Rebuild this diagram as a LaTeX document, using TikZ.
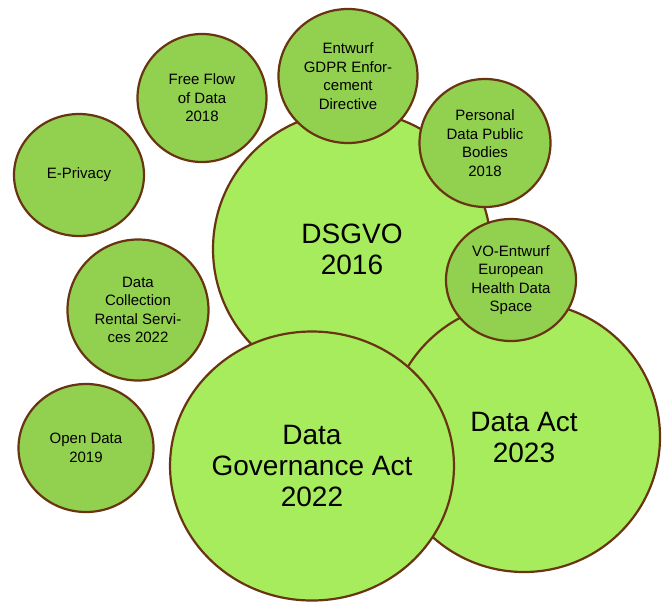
\documentclass[tikz,border=0pt]{standalone}
\usepackage{fontspec}
\setmainfont{Liberation Sans}
\usetikzlibrary{shapes.geometric}
\definecolor{bubbleedge}{RGB}{104,52,18}
\definecolor{bigfill}{RGB}{166,236,92}
\definecolor{smallfill}{RGB}{146,208,80}
\begin{document}
\begin{tikzpicture}[%
    x=1pt,y=-1pt,
    bubble/.style={%
      ellipse,draw=bubbleedge,line width=2.2pt,inner sep=0pt,outer sep=0pt,align=center},
    bigbubble/.style={bubble,fill=bigfill,font=\fontsize{28}{31}\selectfont},
    smallbubble/.style={bubble,fill=smallfill,font=\fontsize{15}{18.5}\selectfont}
    ]
    \useasboundingbox (0,0) rectangle (666,603);
    % the large acts go first, everything else lies on top of them
    \node[bigbubble,minimum width=278pt,minimum height=276pt]at(352,249)(dsgvo){DSGVO\\2016};
    \node[bigbubble,minimum width=272pt,minimum height=270pt]at(524,437)(dataact){Data Act\\2023};
    \node[bigbubble,minimum width=278pt,minimum height=269pt]at(312,466)(dga){Data\\Governance Act\\2022};
    % smaller ones around DSGVO
    \node[smallbubble,minimum width=130pt,minimum height=122pt]at(511,280)(vo){VO-Entwurf\\European\\Health Data\\Space};
    \node[smallbubble,minimum width=131pt,minimum height=128pt]at(485,143)(personal){Personal\\Data Public\\Bodies\\2018};
    \node[smallbubble,minimum width=139pt,minimum height=134pt]at(348,76)(entwurf){Entwurf\\GDPR Enfor-\\cement\\Directive};
    \node[smallbubble,minimum width=129pt,minimum height=128pt]at(202,98)(freeflow){Free Flow\\of Data\\2018};
    \node[smallbubble,minimum width=130pt,minimum height=122pt]at(79,175)(eprivacy){E-Privacy};
    \node[smallbubble,minimum width=141pt,minimum height=141pt]at(138,310)(collection){Data\\Collection\\Rental Servi-\\ces 2022};
    \node[smallbubble,minimum width=135pt,minimum height=128pt]at(86,448)(opendata){Open Data\\2019};
\end{tikzpicture}
\end{document}
